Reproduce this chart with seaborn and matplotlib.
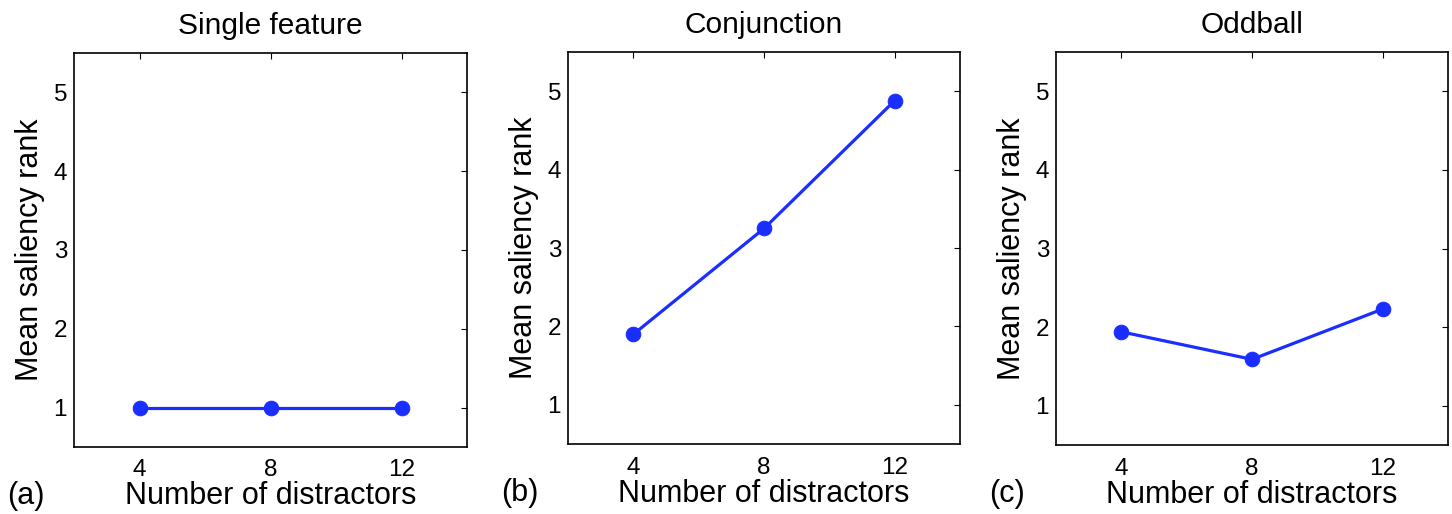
import matplotlib
matplotlib.use("Agg")
import matplotlib.pyplot as plt
import seaborn as sns
import pandas as pd

distractors = [4, 8, 12]
single_feature = [1.0, 1.0, 1.0]
conjunction = [1.90, 3.25, 4.88]
oddball = [1.94, 1.59, 2.23]
titles = ["Single feature", "Conjunction", "Oddball"]
panel_labels = ["(a)", "(b)", "(c)"]
xticks = [4, 8, 12]
yticks = [1, 2, 3, 4, 5]

sns.set_style("white")
plt.rcParams['font.family'] = ['Liberation Sans', 'DejaVu Sans']
plt.rcParams['text.color'] = 'black'
plt.rcParams['axes.labelcolor'] = 'black'
plt.rcParams['xtick.color'] = 'black'
plt.rcParams['ytick.color'] = 'black'

fig = plt.figure(figsize=(14.52, 5.14), dpi=100)
rects = [
    [0.051, 0.1304, 0.2707, 0.7665],
    [0.3912, 0.136, 0.270, 0.7628],
    [0.7273, 0.1342, 0.270, 0.7646],
]
series = [single_feature, conjunction, oddball]
blue = "#1a2eff"

for rect, ys, title, pl in zip(rects, series, titles, panel_labels):
    ax = fig.add_axes(rect)
    df = pd.DataFrame({"x": distractors, "y": ys})
    sns.lineplot(data=df, x="x", y="y", ax=ax, color=blue, linewidth=2.3,
                 marker="o", markersize=10.5, markeredgecolor=blue)
    ax.set_xlim(2, 14)
    ax.set_ylim(0.5, 5.5)
    ax.set_xticks(xticks)
    ax.set_yticks(yticks)
    ax.tick_params(direction="in", length=4, width=0.8, top=True, right=True,
                   labelsize=17.5)
    ax.tick_params(axis="x", pad=9)
    ax.tick_params(axis="y", pad=5)
    for s in ax.spines.values():
        s.set_visible(True)
        s.set_color("black")
        s.set_linewidth(1.2)
    ax.set_title(title, fontsize=21.5, pad=14)
    ax.set_xlabel("Number of distractors", fontsize=22, labelpad=0)
    ax.set_ylabel("Mean saliency rank", fontsize=22, labelpad=6)
    ax.text(-0.17, -0.125, pl, transform=ax.transAxes, fontsize=22,
            ha="left", va="center")

fig.savefig("out.png", dpi=100)
